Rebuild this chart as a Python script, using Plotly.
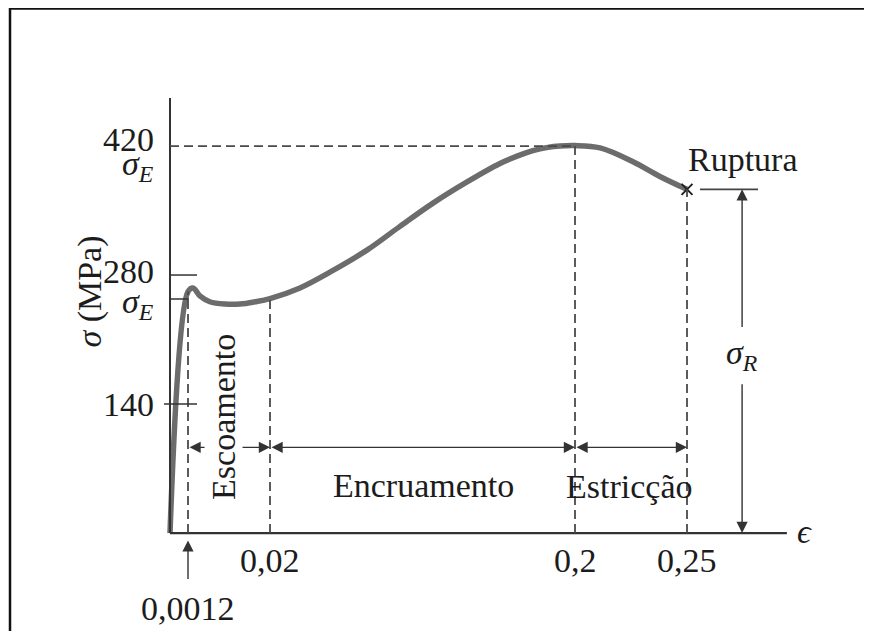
import numpy as np
import plotly.graph_objects as go

# ---------------- data ----------------
strain = [0, 0.0012, 0.00235, 0.0040, 0.0062, 0.0097, 0.0131, 0.0166, 0.02,
          0.0377, 0.0572, 0.0772, 0.0961, 0.1162, 0.1363, 0.1557, 0.1658, 0.1752,
          0.1840, 0.1911, 0.2, 0.2112, 0.2259, 0.2379, 0.25]
stress = [0, 262, 266, 257, 251, 248.5, 248.5, 251, 254.5,
          266, 285, 307, 332, 358, 381, 401, 409, 415,
          418.5, 420, 420.5, 418, 403, 387, 373]

x_tick_vals = [0.02, 0.2, 0.25]
x_tick_text = ["0,02", "0,2", "0,25"]
elastic_strain = 0.0012
elastic_text = "0,0012"
y_tick_vals = [140, 280, 420]
y_tick_text = ["140", "280", "420"]
sigma_yield = 254
sigma_ult = 420
strain_ult = 0.2
strain_rupt = 0.25
sigma_rupt = 373
zone_names = ["Escoamento", "Encruamento", "Estricção"]
zone_start = [0.0012, 0.02, 0.2]
zone_end = [0.02, 0.2, 0.25]

# ---------------- schematic (not to scale) strain axis ----------------
STRAIN_KNOTS = [0, 0.0012, 0.02, 0.2, 0.25, 0.35]
AXIS_KNOTS = [0, 18, 100, 405, 517, 741]


def warp(e):
    if np.isscalar(e):
        return float(np.interp(e, STRAIN_KNOTS, AXIS_KNOTS))
    return np.interp(e, STRAIN_KNOTS, AXIS_KNOTS)


FONT = "Liberation Serif, DejaVu Serif, serif"
TXT = "#1c1c1c"
LINE = "#333333"
DASH = "#4a4a4a"
FS = 34


def font():
    return dict(family=FONT, size=FS, color=TXT)


fig = go.Figure()
fig.add_trace(go.Scatter(x=warp(np.array(strain)), y=stress, mode="lines",
                         line=dict(color="#6c6c6c", width=5.5, shape="spline", smoothing=1.0),
                         hoverinfo="skip", showlegend=False))
fig.add_trace(go.Scatter(x=[warp(strain_rupt)], y=[sigma_rupt], mode="markers",
                         marker=dict(symbol="x-thin", size=11, line=dict(width=2, color="#222")),
                         hoverinfo="skip", showlegend=False))

shapes = []
# axes
shapes.append(dict(type="line", xref="x", yref="y", x0=warp(0), x1=warp(0), y0=0, y1=472,
                   line=dict(color=LINE, width=2)))
shapes.append(dict(type="line", xref="x", yref="y", x0=warp(0), x1=warp(0.2946), y0=0, y1=0,
                   line=dict(color=LINE, width=2.2)))
# dashed guides
dash_style = dict(color=DASH, width=1.8, dash="9px,5px")
shapes.append(dict(type="line", xref="x", yref="y", x0=warp(0), x1=warp(strain_ult),
                   y0=sigma_ult, y1=sigma_ult, line=dash_style))
for e, s in [(elastic_strain, 262), (0.02, sigma_yield), (strain_ult, sigma_ult), (strain_rupt, sigma_rupt)]:
    shapes.append(dict(type="line", xref="x", yref="y", x0=warp(e), x1=warp(e), y0=0, y1=s,
                       line=dash_style))
# y ticks
for v, a, b in [(140, -6, 27), (280, 0, 27), (sigma_yield, 0, 19)]:
    shapes.append(dict(type="line", xref="x", yref="y", xsizemode="pixel", xanchor=warp(0),
                       x0=a, x1=b, y0=v, y1=v, line=dict(color=LINE, width=1.5)))
# rupture level line
shapes.append(dict(type="line", xref="x", yref="y", x0=warp(0.2558), x1=warp(0.2817),
                   y0=sigma_rupt, y1=sigma_rupt, line=dict(color="#444", width=1.6)))
# frame of the scanned figure
shapes.append(dict(type="line", xref="paper", yref="paper", x0=2 / 872, x1=2 / 872, y0=0, y1=1,
                   line=dict(color="#111", width=2.5)))
shapes.append(dict(type="line", xref="paper", yref="paper", x0=1 / 872, x1=1, y0=1 - 0.6 / 631, y1=1 - 0.6 / 631,
                   line=dict(color="#111", width=2.5)))

ann = []
arrow = dict(showarrow=True, arrowhead=2, arrowsize=1.6, arrowwidth=1.4, arrowcolor=LINE,
             standoff=0, startstandoff=0, text="")
dim_y = 93
for name, a, b in zip(zone_names, zone_start, zone_end):
    ann.append(dict(x=warp(b), y=dim_y, ax=warp(a), ay=dim_y, axref="x", ayref="y",
                    arrowside="end+start", xref="x", yref="y", **arrow))
# zone labels
ann.append(dict(x=warp(0.00945), y=126, text=zone_names[0], textangle=-90, showarrow=False,
                bgcolor="white", borderpad=0, font=font()))
ann.append(dict(x=warp(0.1105), y=52, text=zone_names[1], showarrow=False, font=font()))
ann.append(dict(x=warp(0.2245), y=50, text=zone_names[2], showarrow=False, font=font()))
# sigma_R dimension
xr = warp(0.2746)
ann.append(dict(x=xr, y=sigma_rupt, ax=xr, ay=222, axref="x", ayref="y", xref="x", yref="y", **arrow))
ann.append(dict(x=xr, y=0, ax=xr, ay=163, axref="x", ayref="y", xref="x", yref="y", **arrow))
ann.append(dict(x=xr, y=193, text="<i>σ</i><sub><i>R</i></sub>", showarrow=False, font=font()))
ann.append(dict(x=warp(0.2750), y=405, text="Ruptura", showarrow=False, font=font()))
# 0.0012 pointer
ann.append(dict(x=warp(elastic_strain), y=-8, ax=0, ay=40, xref="x", yref="y", **arrow))
ann.append(dict(x=warp(elastic_strain), y=0, yshift=-55, yanchor="top", text=elastic_text,
                showarrow=False, font=font()))
# x tick labels
for v, t in zip(x_tick_vals, x_tick_text):
    ann.append(dict(x=warp(v), y=0, yshift=-7, yanchor="top", text=t, showarrow=False, font=font()))
# y tick labels
for v, t, ys in zip(y_tick_vals, y_tick_text, [0, 4, 7]):
    ann.append(dict(x=warp(0), y=v, xshift=-14, xanchor="right", yshift=ys, text=t,
                    showarrow=False, font=font()))
for v, ys in [(sigma_ult, -20), (sigma_yield, -5)]:
    ann.append(dict(x=warp(0), y=v, xshift=-14, xanchor="right", yshift=ys,
                    text="<i>σ</i><sub><i>E</i></sub>", showarrow=False, font=font()))
# axis titles
ann.append(dict(x=warp(0), y=262, xshift=-80, text="<i>σ</i> (MPa)", textangle=-90,
                showarrow=False, font=font()))
ann.append(dict(x=warp(0.2946), y=0, xshift=8, xanchor="left", yshift=2, text="<i>ϵ</i>",
                showarrow=False, font=font()))

# page body has an 8px margin: ranges chosen so that the axes land where the reference has them
fig.update_layout(
    width=872, height=631, autosize=False,
    margin=dict(l=0, r=0, t=0, b=0, pad=0),
    paper_bgcolor="white", plot_bgcolor="white",
    xaxis=dict(range=[-162, 710], visible=False, fixedrange=True),
    yaxis=dict(range=[-115.0, 569.8], visible=False, fixedrange=True),
    shapes=shapes, annotations=ann, showlegend=False,
)
fig.write_html("out.html")
